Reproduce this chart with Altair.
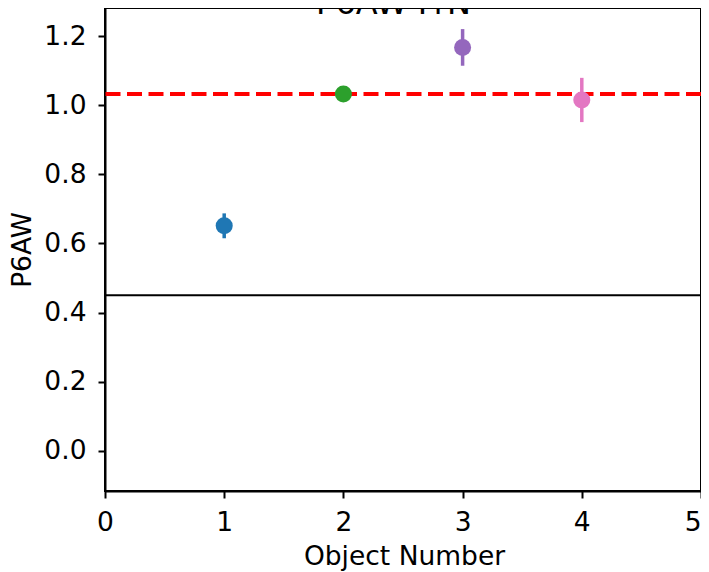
import altair as alt
import pandas as pd

objects = [1, 2, 3, 4]
labels = ["1", "2", "3", "4"]
values = [0.651, 1.032, 1.167, 1.015]
errors = [0.036, 0.008, 0.053, 0.064]
colors = ["#1f77b4", "#2ca02c", "#9467bd", "#e377c2"]
mean_value = [1.032]
cut_value = [0.45]
x_ticks = [0, 1, 2, 3, 4, 5]
y_ticks = [0.0, 0.2, 0.4, 0.6, 0.8, 1.0, 1.2]
x_domain = [0, 5]
y_domain = [-0.116, 1.281]
title_text = ["P6AW FrN"]

FONT = "DejaVu Sans"
W, H = 596, 483
FS = 26.5

df = pd.DataFrame({"obj": objects, "label": labels, "val": values, "err": errors})
df["lo"] = df["val"] - df["err"]
df["hi"] = df["val"] + df["err"]

xs = alt.Scale(domain=x_domain, nice=False, zero=False)
ys = alt.Scale(domain=y_domain, nice=False, zero=False)
cs = alt.Scale(domain=labels, range=colors)

x_enc = alt.X("obj:Q", scale=xs, axis=alt.Axis(
    values=x_ticks, format="d", title="Object Number",
    labelBaseline="alphabetic", labelPadding=32,
    labelAlign={"condition": {"test": "datum.value >= 5", "value": "right"}, "value": "center"},
    titleX=299, titleY=73, titleBaseline="alphabetic", titleAlign="center"))
y_enc = alt.Y("val:Q", scale=ys, axis=alt.Axis(
    values=y_ticks, format=".1f", title="P6AW", labelPadding=12,
    titleX=-75, titleY=H / 2, titleBaseline="alphabetic", titleAlign="center", titleAngle=-90))

base = alt.Chart(df)

err = base.mark_rule(strokeWidth=3.5).encode(
    x=x_enc, y=alt.Y("lo:Q", scale=ys), y2="hi:Q",
    color=alt.Color("label:N", scale=cs, legend=None))

pts = base.mark_circle(size=290, opacity=1).encode(
    x=x_enc, y=y_enc, color=alt.Color("label:N", scale=cs, legend=None))

mean_rule = alt.Chart(pd.DataFrame({"m": mean_value})).mark_rule(
    color="red", strokeWidth=4, strokeDash=[15, 6.5]).encode(y=alt.Y("m:Q", scale=ys))

cut_rule = alt.Chart(pd.DataFrame({"c": cut_value})).mark_rule(
    color="black", strokeWidth=2).encode(y=alt.Y("c:Q", scale=ys))

title = alt.Chart(pd.DataFrame({"t": title_text})).mark_text(
    font=FONT, fontSize=32, color="black", align="center", baseline="alphabetic",
    clip=False).encode(text="t:N", x=alt.value(288.5), y=alt.value(6))

chart = alt.layer(mean_rule, cut_rule, err, pts, title).properties(
    width=W, height=H,
    autosize=alt.AutoSizeParams(type="none"),
    padding={"left": 97, "top": 0, "right": 0, "bottom": 81},
).configure_view(stroke="black", strokeWidth=2).configure_axis(
    grid=False, labelFont=FONT, titleFont=FONT, labelFontSize=FS, titleFontSize=FS,
    labelColor="black", titleColor="black", titleFontWeight="normal",
    tickColor="black", domainColor="black", tickSize=7, tickWidth=2, domainWidth=2,
    labelFlush=False, labelOverlap=False,
)

chart.save("out.html", embed_options={"renderer": "svg", "actions": False})
